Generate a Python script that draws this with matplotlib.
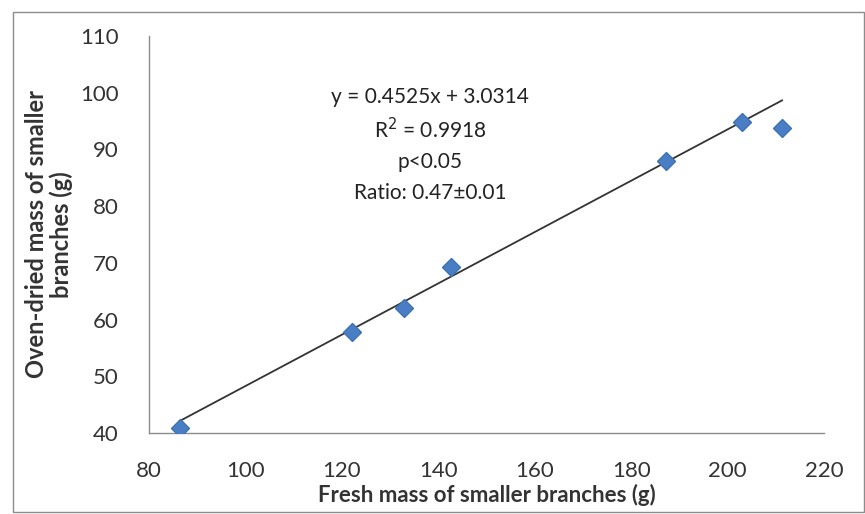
import numpy as np
import matplotlib.pyplot as plt
from matplotlib.patches import Rectangle

plt.rcParams['font.family'] = ['Lato', 'DejaVu Sans']

# data
fresh_mass = [86.4, 122.1, 132.9, 142.7, 187.3, 203.0, 211.3]
dry_mass = [40.9, 57.8, 62.0, 69.3, 88.0, 94.8, 93.8]

slope = 0.4525
intercept = 3.0314
stats_lines = ['y = 0.4525x + 3.0314', 'R$^2$ = 0.9918', 'p<0.05', 'Ratio: 0.47\u00b10.01']

xticks = [80, 100, 120, 140, 160, 180, 200, 220]
yticks = [40, 50, 60, 70, 80, 90, 100, 110]

fig = plt.figure(figsize=(8.65, 5.14), dpi=100)
ax = fig.add_axes([149/865, 1 - 433/514, 675/865, 397/514])

# trend line over the range of the data
x_fit = np.array([min(fresh_mass), max(fresh_mass)])
ax.plot(x_fit, slope*x_fit + intercept, color='#333333', lw=1.3, zorder=2)
ax.plot(fresh_mass, dry_mass, linestyle='none', marker='D', markersize=9,
        color='#4a7ec4', markeredgecolor='#3f72b5', zorder=3)

ax.set_xlim(80, 220)
ax.set_ylim(40, 110)
ax.set_xticks(xticks)
ax.set_yticks(yticks)
ax.tick_params(length=0, labelsize=16, colors='#333333')
ax.tick_params(axis='x', pad=20)
ax.tick_params(axis='y', pad=22)
for s in ['top', 'right']:
    ax.spines[s].set_visible(False)
for s in ['left', 'bottom']:
    ax.spines[s].set_color('#8c8c8c')
    ax.spines[s].set_linewidth(1)

ax.set_xlabel('Fresh mass of smaller branches (g)', fontsize=16, fontweight='bold',
              color='#333333', labelpad=2)
ax.set_ylabel('Oven-dried mass of smaller\nbranches (g)', fontsize=17, fontweight='bold',
              color='#333333', labelpad=5, linespacing=1.05)

y_text = [97, 130, 162, 193]
for line, yp in zip(stats_lines, y_text):
    fig.text(430/865, 1 - yp/514, line, ha='center', va='center', fontsize=15, color='#222222')

# chart area border
fig.patches.append(Rectangle((13/865, 2/514), 851/865, 500/514, transform=fig.transFigure,
                             fill=False, edgecolor='#8c8c8c', lw=1))

fig.savefig('out.png', dpi=100)
